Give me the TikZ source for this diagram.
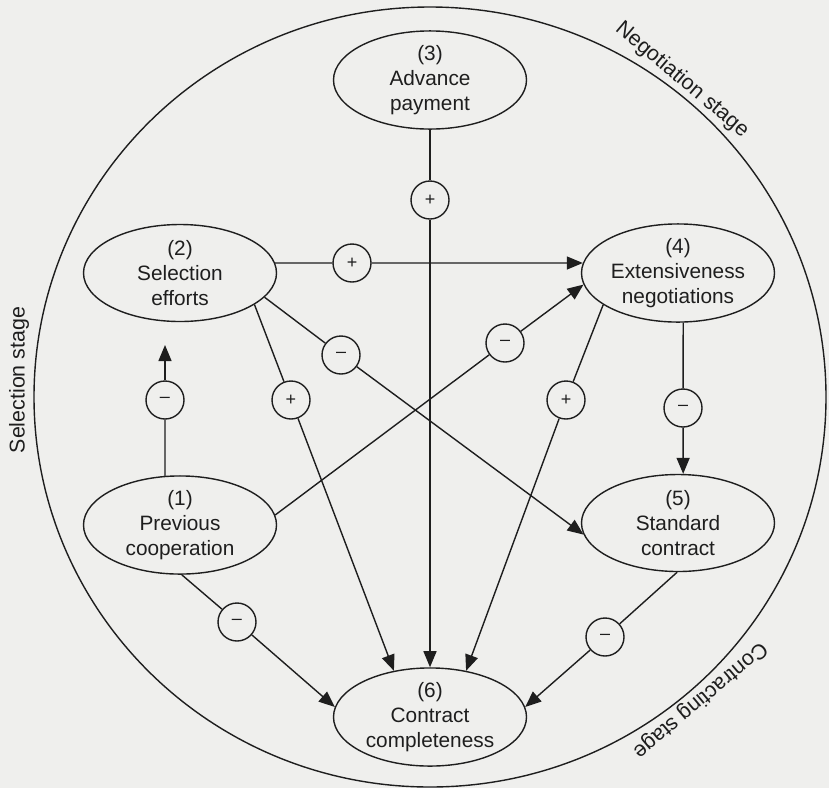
\documentclass[tikz,border=0pt]{standalone}
\usepackage{fontspec}
\setmainfont{Liberation Sans}
\usetikzlibrary{arrows.meta}
\usetikzlibrary{shapes.geometric}
\definecolor{pagebg}{RGB}{239,239,237}
\definecolor{ink}{RGB}{30,30,30}

\begin{document}
\begin{tikzpicture}[x=0.5pt,y=-0.5pt]

      \fill[pagebg] (0,0) rectangle (829,788);
      \useasboundingbox (0,0) rectangle (829,788);

      % the three stages
      \draw[ink,line width=0.7pt] (430,397) ellipse [x radius=198pt,y radius=195pt];
      \begin{scope}[every node/.style={text=ink,font=\fontsize{10.7}{12}\selectfont}]
        \node[rotate=-40] (negst) at (682,80) {Negotiation stage};
        \node[rotate=90] (selst) at (19,380) {Selection stage};
        \node[rotate=-140] (const) at (700,700) {Contracting stage};
      \end{scope}

      \begin{scope}[every node/.style={ellipse,draw=ink,line width=0.7pt,inner sep=0pt,
          minimum width=96.5pt,minimum height=48.5pt,align=center,text=ink,
          font=\fontsize{10.4}{12.5}\selectfont}]
        \node (n1) at (180,525) {(1)\\Previous\\cooperation};
        \node (n2) at (180,273) {(2)\\Selection\\efforts};
        \node (n3) at (430,80) {(3)\\Advance\\payment};
        \node (n4) at (678,273) {(4)\\Extensiveness\\negotiations};
        \node (n5) at (678,523) {(5)\\Standard\\contract};
        \node (n6) at (430,717) {(6)\\Contract\\completeness};
      \end{scope}

      \begin{scope}[every node/.style={circle,draw=ink,line width=0.7pt,inner sep=0pt,
          minimum size=19pt,text=ink,font=\fontsize{9}{9}\selectfont}]
        \node (m12) at (165,400) {--};
        \node (m24) at (352,263) {+};
        \node (m25) at (341,355) {--};
        \node (m26) at (291,400) {+};
        \node (m36) at (430,200) {+};
        \node (m14) at (505,343) {--};
        \node (m46) at (566,400) {+};
        \node (m45) at (683,408) {--};
        \node (m16) at (237,622) {--};
        \node (m56) at (605,637) {--};
      \end{scope}

      \coordinate (t12) at (165,345);

      \begin{scope}[>={Triangle[length=8pt,width=6.5pt]},
          every edge/.style={draw=ink,line width=0.7pt}]
        \path (n1.107) edge (m12);
        \path (m12) edge[->] (t12);
        \path (n2.6) edge (m24);
        \path (m24) edge[->] (n4.174);
        \path (n2.-16) edge (m25);
        \path (m25) edge[->] (n5.-173);
        \path (n2.-23) edge (m26);
        \path (m26) edge[->] (n6.128);
        \path (n3) edge (m36);
        \path (m36) edge[->] (n6);
        \path (n1.6) edge (m14);
        \path (m14) edge[->] (n4.-173);
        \path (n4.-157) edge (m46);
        \path (m46) edge[->] (n6.52);
        \path (n4.-84) edge (m45);
        \path (m45) edge[->] (n5.84);
        \path (n1.-88) edge (m16);
        \path (m16) edge[->] (n6.174);
        \path (n5.-91) edge (m56);
        \path (m56) edge[->] (n6.6);
      \end{scope}
    \end{tikzpicture}
\end{document}
